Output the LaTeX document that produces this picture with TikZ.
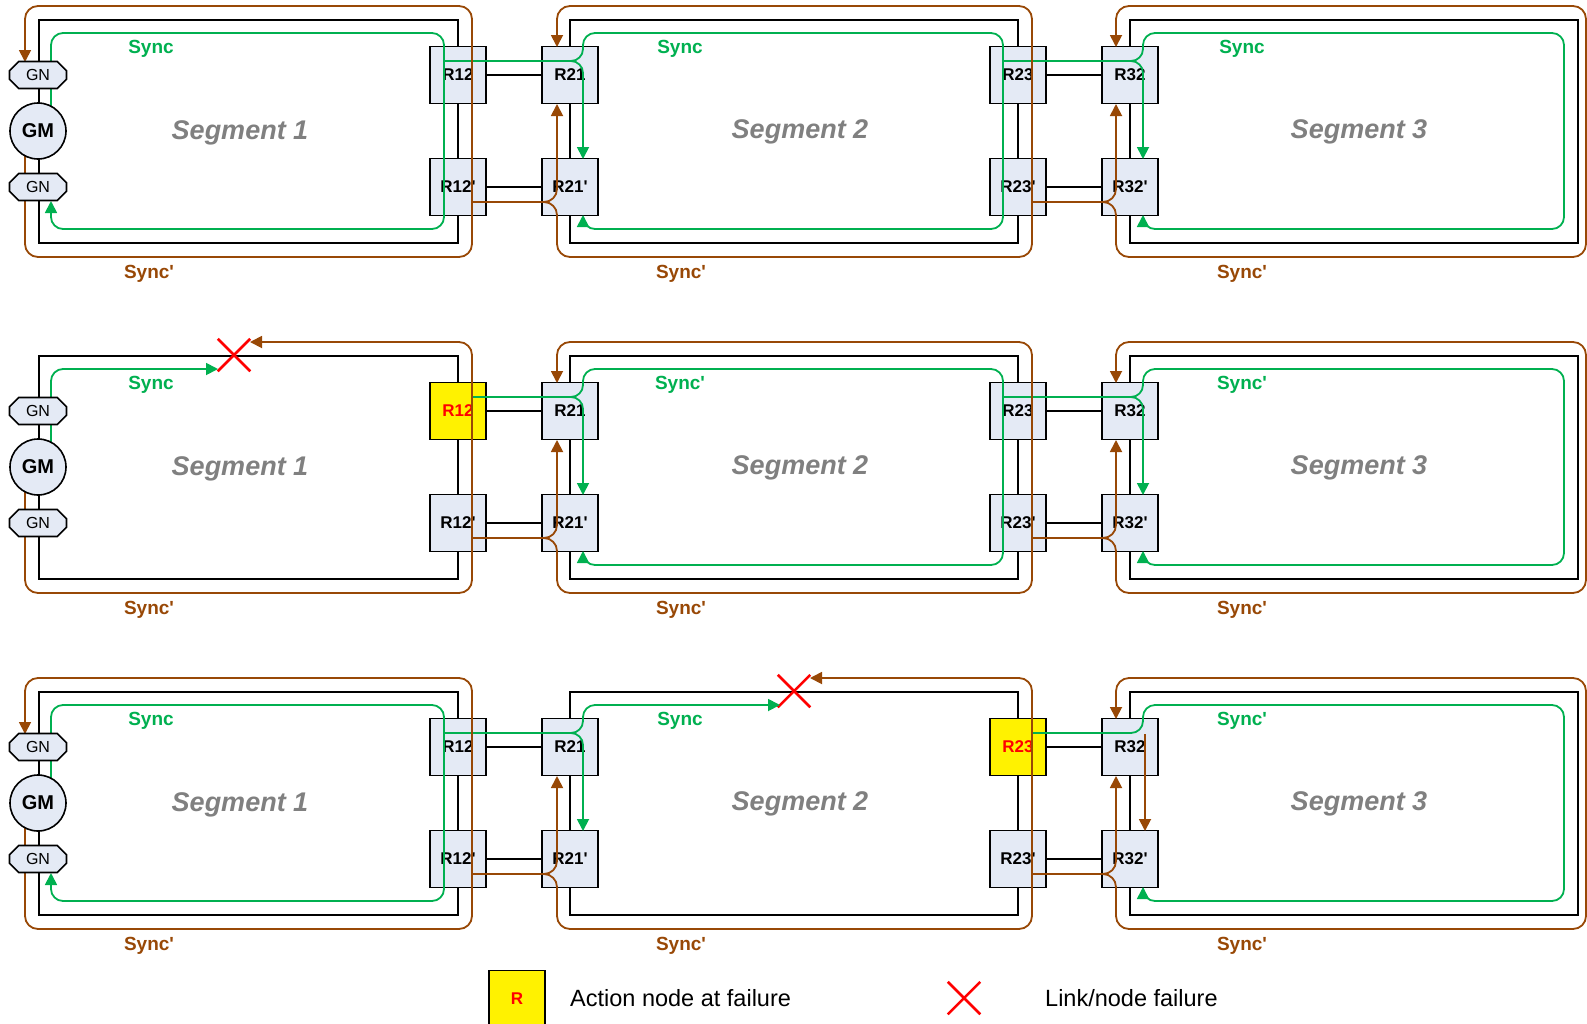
\documentclass[tikz,border=0pt]{standalone}
\usepackage{fontspec}
\setmainfont{Liberation Sans}
\usepackage{tikz}
\usetikzlibrary{arrows.meta,shapes.misc}
\definecolor{syncg}{RGB}{0,176,80}
\definecolor{syncb}{RGB}{152,72,6}
\definecolor{rtrfill}{RGB}{228,234,245}
\newcommand{\tick}{\textquotesingle}
\tikzset{
  wire/.style={line width=2pt},
  rtr/.style={draw,line width=1.6pt,fill=rtrfill,minimum width=56pt,minimum height=57pt,inner sep=0pt,font=\bfseries\fontsize{17}{17}\selectfont},
  act/.style={rtr,fill=yellow,text=red},
  gn/.style={chamfered rectangle,chamfered rectangle xsep=7pt,draw,line width=1.6pt,fill=rtrfill,minimum width=57pt,minimum height=27pt,inner sep=0pt,font=\fontsize{16}{16}\selectfont},
  gm/.style={circle,draw,line width=1.6pt,fill=rtrfill,minimum size=56pt,inner sep=0pt,font=\bfseries\fontsize{20}{20}\selectfont},
  sync/.style={draw=syncg,line width=1.8pt,rounded corners=12pt},
  syncp/.style={draw=syncb,line width=1.8pt,rounded corners=13pt},
  seglbl/.style={text=gray,font=\bfseries\itshape\fontsize{27}{27}\selectfont},
  glbl/.style={text=syncg,font=\bfseries\fontsize{19}{19}\selectfont},
  blbl/.style={text=syncb,font=\bfseries\fontsize{19}{19}\selectfont},
  fail/.style={cross out,draw=red,line width=2.5pt,minimum size=30pt,inner sep=0pt}
}
\begin{document}
\begin{tikzpicture}[x=1pt,y=-1pt,>={Triangle[length=12pt,width=12pt]}]
  \useasboundingbox (0,0) rectangle (1587,1023);
  % three rows: segments, redundant routers, labels
  \foreach \r/\dy/\ra/\rb/\lb/\lc in {1/0/rtr/rtr/Sync/Sync,2/336/act/rtr/Sync\tick/Sync\tick,3/672/rtr/act/Sync/Sync\tick}{
    \begin{scope}[shift={(0,\dy)}]
      \draw[wire] (39,20) rectangle (458,243); \draw[wire] (570,20) rectangle (1018,243); \draw[wire] (1130,20) rectangle (1578,243);
      \node[\ra] (r12-\r) at (458,75) {R12}; \node[rtr] (r12p-\r) at (458,187) {R12\tick};
      \node[rtr] (r21-\r) at (570,75) {R21}; \node[rtr] (r21p-\r) at (570,187) {R21\tick};
      \node[\rb] (r23-\r) at (1018,75) {R23}; \node[rtr] (r23p-\r) at (1018,187) {R23\tick};
      \node[rtr] (r32-\r) at (1130,75) {R32}; \node[rtr] (r32p-\r) at (1130,187) {R32\tick};
      \draw[wire] (r12-\r) -- (r21-\r); \draw[wire] (r12p-\r) -- (r21p-\r);
      \draw[wire] (r23-\r) -- (r32-\r); \draw[wire] (r23p-\r) -- (r32p-\r);
      \node[seglbl] (sega-\r) at (240,133) {Segment 1}; \node[seglbl] (segb-\r) at (800,132) {Segment 2}; \node[seglbl] (segc-\r) at (1359,132) {Segment 3};
      \node[glbl] (sa-\r) at (151,49) {Sync}; \node[glbl] (sb-\r) at (680,49) {\lb}; \node[glbl] (sc-\r) at (1242,49) {\lc};
      \node[blbl] (pa-\r) at (149,274) {Sync\tick}; \node[blbl] (pb-\r) at (681,274) {Sync\tick}; \node[blbl] (pc-\r) at (1242,274) {Sync\tick};
    \end{scope}}
  % row 1: no failure
  \begin{scope}
    \draw[sync,->] (51,106) -- (51,33) -- (444,33) -- (444,229) -- (51,229) -- (51,201);
    \draw[sync,->] (444,61) -- (583,61) -- (583,159);
    \draw[sync,->] (565,61) -- (583,61) -- (583,33) -- (1003,33) -- (1003,229) -- (583,229) -- (583,215);
    \draw[sync,->] (1003,61) -- (1143,61) -- (1143,159);
    \draw[sync,->] (1125,61) -- (1143,61) -- (1143,33) -- (1564,33) -- (1564,229) -- (1143,229) -- (1143,215);
    \draw[syncp,->] (25,156) -- (25,257) -- (472,257) -- (472,6) -- (25,6) -- (25,62);
    \draw[syncp,->] (472,202) -- (557,202) -- (557,104);
    \draw[syncp,->] (540,202) -- (557,202) -- (557,257) -- (1032,257) -- (1032,6) -- (557,6) -- (557,47);
    \draw[syncp,->] (1032,202) -- (1116,202) -- (1116,104);
    \draw[syncp,->] (1100,202) -- (1116,202) -- (1116,257) -- (1586,257) -- (1586,6) -- (1116,6) -- (1116,47);
  \end{scope}
  % row 2: failure in segment 1, R12 acts
  \begin{scope}[shift={(0,336)}]
    \node[fail] (xa) at (234,19) {};
    \draw[sync,->] (51,106) -- (51,33) -- (218,33);
    \draw[sync,->] (472,61) -- (583,61) -- (583,159);
    \draw[sync,->] (565,61) -- (583,61) -- (583,33) -- (1003,33) -- (1003,229) -- (583,229) -- (583,215);
    \draw[sync,->] (1003,61) -- (1143,61) -- (1143,159);
    \draw[sync,->] (1125,61) -- (1143,61) -- (1143,33) -- (1564,33) -- (1564,229) -- (1143,229) -- (1143,215);
    \draw[syncp,->] (25,156) -- (25,257) -- (472,257) -- (472,6) -- (250,6);
    \draw[syncp,->] (472,202) -- (557,202) -- (557,104);
    \draw[syncp,->] (540,202) -- (557,202) -- (557,257) -- (1032,257) -- (1032,6) -- (557,6) -- (557,47);
    \draw[syncp,->] (1032,202) -- (1116,202) -- (1116,104);
    \draw[syncp,->] (1100,202) -- (1116,202) -- (1116,257) -- (1586,257) -- (1586,6) -- (1116,6) -- (1116,47);
  \end{scope}
  % row 3: failure in segment 2, R23 acts
  \begin{scope}[shift={(0,672)}]
    \node[fail] (xb) at (794,19) {};
    \draw[sync,->] (51,106) -- (51,33) -- (444,33) -- (444,229) -- (51,229) -- (51,201);
    \draw[sync,->] (444,61) -- (583,61) -- (583,159);
    \draw[sync,->] (565,61) -- (583,61) -- (583,33) -- (780,33);
    \draw[sync,->] (1032,61) -- (1143,61) -- (1143,33) -- (1564,33) -- (1564,229) -- (1143,229) -- (1143,215);
    \draw[syncp,->] (25,156) -- (25,257) -- (472,257) -- (472,6) -- (25,6) -- (25,62);
    \draw[syncp,->] (472,202) -- (557,202) -- (557,104);
    \draw[syncp,->] (540,202) -- (557,202) -- (557,257) -- (1032,257) -- (1032,6) -- (810,6);
    \draw[syncp,->] (1032,202) -- (1116,202) -- (1116,104);
    \draw[syncp,->] (1100,202) -- (1116,202) -- (1116,257) -- (1586,257) -- (1586,6) -- (1116,6) -- (1116,47);
    \draw[syncp,->,rounded corners=0pt] (1145,62) -- (1145,159);
  \end{scope}
  % grandmaster and its two ports
  \foreach \r/\dy in {1/0,2/336,3/672}{
    \begin{scope}[shift={(0,\dy)}]
      \node[gn] (gnt-\r) at (38,75) {GN}; \node[gm] (gm-\r) at (38,131) {GM}; \node[gn] (gnb-\r) at (38,187) {GN};
    \end{scope}}
  % legend
  \node[act,font=\bfseries\fontsize{17}{17}\selectfont] (lgr) at (517,999) {R};
  \node[anchor=west,inner sep=0pt,font=\fontsize{23.5}{24}\selectfont] (lga) at (570,998) {Action node at failure};
  \node[fail] (lgx) at (964,998) {};
  \node[anchor=west,inner sep=0pt,font=\fontsize{23.5}{24}\selectfont] (lgl) at (1045,998) {Link/node failure};
\end{tikzpicture}
\end{document}
